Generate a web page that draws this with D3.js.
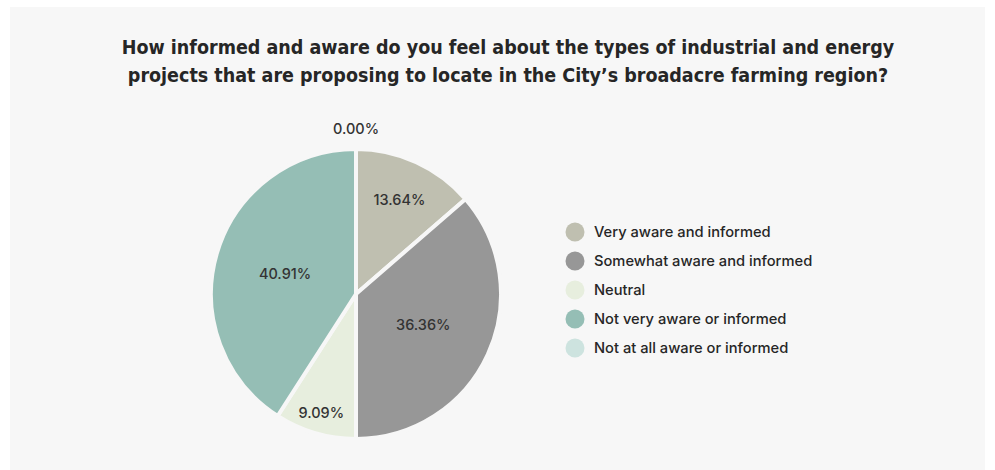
<!DOCTYPE html>
<html>
<head>
<meta charset="utf-8">
<script src="https://cdn.jsdelivr.net/npm/d3@7"></script>
<style>
  html, body { margin: 0; padding: 0; background: #ffffff; }
  svg { display: block; }
</style>
</head>
<body>
<svg id="chart" width="995" height="470"></svg>
<script>
// Survey responses
const categories = [
  "Very aware and informed",
  "Somewhat aware and informed",
  "Neutral",
  "Not very aware or informed",
  "Not at all aware or informed"
];
const shares = [13.64, 36.36, 9.09, 40.91, 0.00];
const colors = ["#bfbfb0", "#979797", "#e7eede", "#95beb5", "#cde3df"];
const titleLines = [
  "How informed and aware do you feel about the types of industrial and energy",
  "projects that are proposing to locate in the City\u2019s broadacre farming region?"
];

const W = 995, H = 470;
const svg = d3.select("#chart");

// panel background
svg.append("rect")
  .attr("x", 10).attr("y", 7)
  .attr("width", 975).attr("height", 463)
  .attr("fill", "#f7f7f7");

// title
const title = svg.append("text")
  .attr("text-anchor", "middle")
  .attr("font-family", "'DejaVu Sans Condensed', 'DejaVu Sans', sans-serif")
  .attr("font-weight", 600)
  .attr("font-size", 19.5)
  .attr("fill", "#262626");
titleLines.forEach((t, i) => {
  title.append("tspan").attr("x", 508).attr("y", 54 + i * 28).text(t);
});

// pie
const cx = 356, cy = 294, R = 145;
const data = categories.map((c, i) => ({ name: c, value: shares[i], color: colors[i] }));
const pie = d3.pie().value(d => d.value).sort(null);
const arcs = pie(data);
const arc = d3.arc().innerRadius(0).outerRadius(R);

const g = svg.append("g").attr("transform", `translate(${cx},${cy})`);
g.selectAll("path.slice")
  .data(arcs.filter(a => a.data.value > 0))
  .join("path")
  .attr("class", "slice")
  .attr("d", arc)
  .attr("fill", d => d.data.color)
  .attr("stroke", "#f7f7f7")
  .attr("stroke-width", 4)
  .attr("stroke-linejoin", "round");

// label radius depends on slice size: thin slices push labels outward
function labelRadius(v) {
  if (v <= 0) return R * 1.14;
  if (v < 10) return R * 0.85;
  if (v < 20) return R * 0.72;
  return R * 0.51;
}
g.selectAll("text.lbl")
  .data(arcs)
  .join("text")
  .attr("class", "lbl")
  .attr("text-anchor", "middle")
  .attr("dominant-baseline", "central")
  .attr("font-family", "Inter, 'Liberation Sans', sans-serif")
  .attr("font-size", 14.5)
  .attr("font-weight", 500)
  .attr("fill", "#333333")
  .attr("transform", d => {
    const r = labelRadius(d.data.value);
    const a = (d.startAngle + d.endAngle) / 2;
    return `translate(${Math.sin(a) * r},${-Math.cos(a) * r})`;
  })
  .text(d => d.data.value.toFixed(2) + "%");

// legend
const legend = svg.append("g").attr("transform", "translate(575,232)");
const rowH = 29;
const items = legend.selectAll("g.item")
  .data(data)
  .join("g")
  .attr("class", "item")
  .attr("transform", (d, i) => `translate(0,${i * rowH})`);
items.append("circle")
  .attr("r", 9.5)
  .attr("fill", d => d.color);
items.append("text")
  .attr("x", 19)
  .attr("dominant-baseline", "central")
  .attr("font-family", "Inter, 'Liberation Sans', sans-serif")
  .attr("font-size", 14.7)
  .attr("font-weight", 500)
  .attr("fill", "#262626")
  .text(d => d.name);
</script>
</body>
</html>
